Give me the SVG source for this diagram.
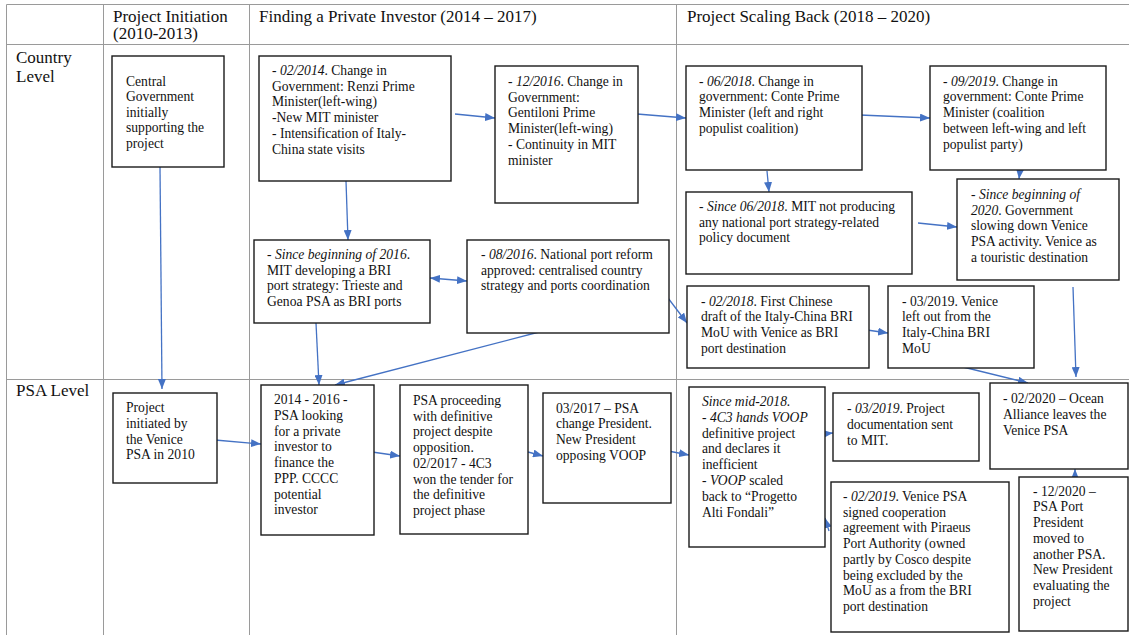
<svg xmlns="http://www.w3.org/2000/svg" width="1129" height="635" viewBox="0 0 1129 635">
<style>
.grid{stroke:#9a9a9a;stroke-width:1;fill:none}
.box{fill:#fff;stroke:#1a1a1a;stroke-width:1.4}
.t{font-family:"Liberation Serif","Times New Roman",serif;font-size:13.6px;fill:#111}
.h{font-family:"Liberation Serif","Times New Roman",serif;font-size:17px;fill:#111}
.i{font-style:italic}
.c{stroke:#4472C4;stroke-width:1.3;fill:none;marker-end:url(#ah)}
.d{marker-start:url(#ah)}
</style>
<defs>
<marker id="ah" viewBox="0 0 10 8" refX="10" refY="4" markerWidth="10" markerHeight="8" markerUnits="userSpaceOnUse" orient="auto-start-reverse">
<path d="M0,0 L10,4 L0,8 z" fill="#4472C4"/>
</marker>
</defs>
<rect width="1129" height="635" fill="#fff"/>
<g id="table">
<line class="grid" x1="6.5" y1="4.5" x2="1129" y2="4.5"/>
<line class="grid" x1="6.5" y1="44.5" x2="1129" y2="44.5"/>
<line class="grid" x1="6.5" y1="379.5" x2="1129" y2="379.5"/>
<line class="grid" x1="6.5" y1="4.5" x2="6.5" y2="635"/>
<line class="grid" x1="103.5" y1="4.5" x2="103.5" y2="635"/>
<line class="grid" x1="249.5" y1="4.5" x2="249.5" y2="635"/>
<line class="grid" x1="676.5" y1="4.5" x2="676.5" y2="635"/>
<text class="h" x="113" y="22">Project Initiation</text>
<text class="h" x="113" y="39">(2010-2013)</text>
<text class="h" x="259" y="22">Finding a Private Investor (2014 – 2017)</text>
<text class="h" x="687" y="22">Project Scaling Back (2018 – 2020)</text>
<text class="h" x="16" y="63">Country</text>
<text class="h" x="16" y="82">Level</text>
<text class="h" x="16" y="396">PSA Level</text>
</g>
<g id="connectors">
<path class="c" d="M455,114 L495,118"/>
<path class="c" d="M637,114 L686,118"/>
<path class="c" d="M860,115 L930,118"/>
<path class="c" d="M767,171 L769,192"/>
<path class="c" d="M1020,170 L1019,179"/>
<path class="c" d="M918,223 L957,227"/>
<path class="c" d="M346,181 L348,240"/>
<path class="c d" d="M430,278 L467,281"/>
<path class="c" d="M668,298 L687,323"/>
<path class="c" d="M867,330 L888,333"/>
<path class="c" d="M963,367 L1028,383"/>
<path class="c" d="M1073,287 L1076,377"/>
<path class="c" d="M160,167 L162,389"/>
<path class="c" d="M215,440 L261,444"/>
<path class="c" d="M316,323 L319,385"/>
<path class="c" d="M543,331 L335,385"/>
<path class="c" d="M372,452 L400,456"/>
<path class="c" d="M528,452 L543,456"/>
<path class="c" d="M663,450 L689,455"/>
<path class="c" d="M823,434 L833,433"/>
<path class="c" d="M829,531 L825,518"/>
<path class="c" d="M1075,478 L1075,469"/>
</g>
<g id="n1"><rect class="box" x="112" y="56" width="112" height="111"/>
<text class="t"><tspan x="126" y="85.5">Central</tspan><tspan x="126" y="101">Government</tspan><tspan x="126" y="116.5">initially</tspan><tspan x="126" y="132">supporting the</tspan><tspan x="126" y="147.5">project</tspan></text></g>
<g id="n2"><rect class="box" x="259" y="56" width="192" height="125"/>
<text class="t"><tspan x="272" y="75">- <tspan class="i">02/2014</tspan>. Change in</tspan><tspan x="272" y="90.7">Government: Renzi Prime</tspan><tspan x="272" y="106.4">Minister(left-wing)</tspan><tspan x="272" y="122.1">-New MIT minister</tspan><tspan x="272" y="137.8">- Intensification of Italy-</tspan><tspan x="272" y="153.5">China state visits</tspan></text></g>
<g id="n3"><rect class="box" x="495" y="66" width="143" height="137"/>
<text class="t"><tspan x="508" y="86">- <tspan class="i">12/2016</tspan>. Change in</tspan><tspan x="508" y="101.7">Government:</tspan><tspan x="508" y="117.4">Gentiloni Prime</tspan><tspan x="508" y="133.1">Minister(left-wing)</tspan><tspan x="508" y="148.8">- Continuity in MIT</tspan><tspan x="508" y="164.5">minister</tspan></text></g>
<g id="n4"><rect class="box" x="686" y="66" width="176" height="104"/>
<text class="t"><tspan x="699" y="85.7">- <tspan class="i">06/2018</tspan>. Change in</tspan><tspan x="699" y="101.4">government: Conte Prime</tspan><tspan x="699" y="117.1">Minister (left and right</tspan><tspan x="699" y="132.8">populist coalition)</tspan></text></g>
<g id="n5"><rect class="box" x="930" y="66" width="176" height="104"/>
<text class="t"><tspan x="943" y="85.7">- <tspan class="i">09/2019</tspan>. Change in</tspan><tspan x="943" y="101.4">government: Conte Prime</tspan><tspan x="943" y="117.1">Minister (coalition</tspan><tspan x="943" y="132.8">between left-wing and left</tspan><tspan x="943" y="148.5">populist party)</tspan></text></g>
<g id="n6"><rect class="box" x="686" y="192" width="226" height="82"/>
<text class="t"><tspan x="699" y="211">- <tspan class="i">Since 06/2018</tspan>. MIT not producing</tspan><tspan x="699" y="226.7">any national port strategy-related</tspan><tspan x="699" y="242.4">policy document</tspan></text></g>
<g id="n7"><rect class="box" x="957" y="179" width="162" height="101"/>
<text class="t"><tspan x="971" y="199">- <tspan class="i">Since beginning of</tspan></tspan><tspan x="971" y="214.7"><tspan class="i">2020</tspan>. Government</tspan><tspan x="971" y="230.4">slowing down Venice</tspan><tspan x="971" y="246.1">PSA activity. Venice as</tspan><tspan x="971" y="261.8">a touristic destination</tspan></text></g>
<g id="n8"><rect class="box" x="254" y="240" width="176" height="83"/>
<text class="t"><tspan x="267" y="259">- <tspan class="i">Since beginning of 2016</tspan>.</tspan><tspan x="267" y="274.7">MIT developing a BRI</tspan><tspan x="267" y="290.4">port strategy: Trieste and</tspan><tspan x="267" y="306.1">Genoa PSA as BRI ports</tspan></text></g>
<g id="n9"><rect class="box" x="467" y="240" width="202" height="93"/>
<text class="t"><tspan x="481" y="259">- <tspan class="i">08/2016</tspan>. National port reform</tspan><tspan x="481" y="274.7">approved: centralised country</tspan><tspan x="481" y="290.4">strategy and ports coordination</tspan></text></g>
<g id="n10"><rect class="box" x="687" y="286" width="182" height="82"/>
<text class="t"><tspan x="701" y="305.5">- <tspan class="i">02/2018</tspan>. First Chinese</tspan><tspan x="701" y="321.2">draft of the Italy-China BRI</tspan><tspan x="701" y="336.9">MoU with Venice as BRI</tspan><tspan x="701" y="352.6">port destination</tspan></text></g>
<g id="n11"><rect class="box" x="888" y="286" width="146" height="82"/>
<text class="t"><tspan x="902" y="305.5">- 03/2019. Venice</tspan><tspan x="902" y="321.2">left out from the</tspan><tspan x="902" y="336.9">Italy-China BRI</tspan><tspan x="902" y="352.6">MoU</tspan></text></g>
<g id="n12"><rect class="box" x="113" y="393" width="104" height="90"/>
<text class="t"><tspan x="126" y="412.3">Project</tspan><tspan x="126" y="428">initiated by</tspan><tspan x="126" y="443.7">the Venice</tspan><tspan x="126" y="459.4">PSA in 2010</tspan></text></g>
<g id="n13"><rect class="box" x="261" y="385" width="113" height="150"/>
<text class="t"><tspan x="274" y="404.3">2014 - 2016 -</tspan><tspan x="274" y="420">PSA looking</tspan><tspan x="274" y="435.7">for a private</tspan><tspan x="274" y="451.4">investor to</tspan><tspan x="274" y="467.1">finance the</tspan><tspan x="274" y="482.8">PPP. CCCC</tspan><tspan x="274" y="498.5">potential</tspan><tspan x="274" y="514.2">investor</tspan></text></g>
<g id="n14"><rect class="box" x="400" y="385" width="128" height="149"/>
<text class="t"><tspan x="413" y="405">PSA proceeding</tspan><tspan x="413" y="420.7">with definitive</tspan><tspan x="413" y="436.4">project despite</tspan><tspan x="413" y="452.1">opposition.</tspan><tspan x="413" y="467.8">02/2017 - 4C3</tspan><tspan x="413" y="483.5">won the tender for</tspan><tspan x="413" y="499.2">the definitive</tspan><tspan x="413" y="514.9">project phase</tspan></text></g>
<g id="n15"><rect class="box" x="543" y="393" width="128" height="110"/>
<text class="t"><tspan x="556" y="412.7">03/2017 – PSA</tspan><tspan x="556" y="428.4">change President.</tspan><tspan x="556" y="444.1">New President</tspan><tspan x="556" y="459.8">opposing VOOP</tspan></text></g>
<g id="n16"><rect class="box" x="689" y="387" width="136" height="160"/>
<text class="t"><tspan x="702" y="406" class="i">Since mid-2018.</tspan><tspan x="702" y="421.8" class="i">- 4C3 hands VOOP</tspan><tspan x="702" y="437.6">definitive project</tspan><tspan x="702" y="453.4">and declares it</tspan><tspan x="702" y="469.2">inefficient</tspan><tspan x="702" y="485">- <tspan class="i">VOOP</tspan> scaled</tspan><tspan x="702" y="500.8">back to “Progetto</tspan><tspan x="702" y="516.6">Alti Fondali”</tspan></text></g>
<g id="n17"><rect class="box" x="833" y="393" width="146" height="68"/>
<text class="t"><tspan x="847" y="413.3">- <tspan class="i">03/2019</tspan>. Project</tspan><tspan x="847" y="429">documentation sent</tspan><tspan x="847" y="444.7">to MIT.</tspan></text></g>
<g id="n18"><rect class="box" x="831" y="482" width="178" height="150"/>
<text class="t"><tspan x="843" y="501">- <tspan class="i">02/2019</tspan>. Venice PSA</tspan><tspan x="843" y="516.7">signed cooperation</tspan><tspan x="843" y="532.4">agreement with Piraeus</tspan><tspan x="843" y="548.1">Port Authority (owned</tspan><tspan x="843" y="563.8">partly by Cosco despite</tspan><tspan x="843" y="579.5">being excluded by the</tspan><tspan x="843" y="595.2">MoU as a from the BRI</tspan><tspan x="843" y="610.9">port destination</tspan></text></g>
<g id="n19"><rect class="box" x="990" y="383" width="138" height="86"/>
<text class="t"><tspan x="1003" y="403.3">- 02/2020 – Ocean</tspan><tspan x="1003" y="419">Alliance leaves the</tspan><tspan x="1003" y="434.7">Venice PSA</tspan></text></g>
<g id="n20"><rect class="box" x="1019" y="477" width="109" height="154"/>
<text class="t"><tspan x="1033" y="495.7">- 12/2020 –</tspan><tspan x="1033" y="511.4">PSA Port</tspan><tspan x="1033" y="527.1">President</tspan><tspan x="1033" y="542.8">moved to</tspan><tspan x="1033" y="558.5">another PSA.</tspan><tspan x="1033" y="574.2">New President</tspan><tspan x="1033" y="589.9">evaluating the</tspan><tspan x="1033" y="605.6">project</tspan></text></g>
</svg>
